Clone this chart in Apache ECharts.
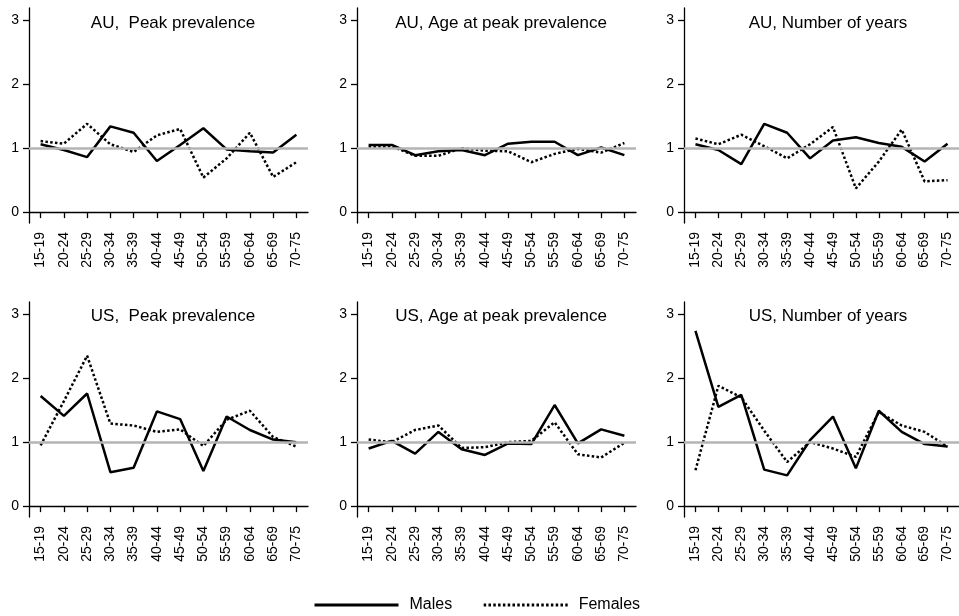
<!DOCTYPE html>
<html>
<head>
<meta charset="utf-8">
<script src="https://cdn.jsdelivr.net/npm/echarts@6/dist/echarts.min.js"></script>
<style>
html,body{margin:0;padding:0;background:#fff;}
#chart{width:959px;height:616px;}
</style>
</head>
<body>
<div id="chart"></div>
<script>
// ---- data ----
const ageGroups = ['15-19','20-24','25-29','30-34','35-39','40-44','45-49','50-54','55-59','60-64','65-69','70-75'];
const yTicks = [0, 1, 2, 3];
const panelTitles = ['AU,  Peak prevalence','AU, Age at peak prevalence','AU, Number of years',
                     'US,  Peak prevalence','US, Age at peak prevalence','US, Number of years'];

const auPeakMales     = [1.06,0.97,0.86,1.34,1.24,0.80,1.05,1.31,0.98,0.95,0.93,1.21];
const auPeakFemales   = [1.11,1.07,1.38,1.06,0.94,1.20,1.30,0.54,0.84,1.24,0.55,0.78];
const auAgeMales      = [1.05,1.05,0.89,0.95,0.97,0.89,1.07,1.10,1.10,0.89,1.01,0.89];
const auAgeFemales    = [1.02,1.03,0.88,0.88,1.00,0.96,0.95,0.78,0.91,0.99,0.93,1.08];
const auYearsMales    = [1.06,0.97,0.75,1.38,1.24,0.84,1.12,1.17,1.08,1.02,0.79,1.07];
const auYearsFemales  = [1.15,1.06,1.21,1.03,0.84,1.06,1.33,0.37,0.79,1.29,0.48,0.50];
const usPeakMales     = [1.72,1.41,1.76,0.53,0.60,1.48,1.36,0.55,1.40,1.19,1.04,1.00];
const usPeakFemales   = [0.95,1.64,2.35,1.29,1.26,1.16,1.20,0.94,1.35,1.49,1.08,0.93];
const usAgeMales      = [0.90,1.02,0.82,1.16,0.89,0.80,0.98,0.97,1.58,0.98,1.20,1.10];
const usAgeFemales    = [1.04,1.00,1.19,1.26,0.91,0.92,1.00,1.02,1.31,0.81,0.76,0.99];
const usYearsMales    = [2.74,1.55,1.74,0.57,0.48,1.03,1.40,0.59,1.49,1.16,0.97,0.93];
const usYearsFemales  = [0.56,1.88,1.70,1.18,0.69,1.00,0.90,0.77,1.47,1.26,1.16,0.93];

const malesByPanel   = [auPeakMales, auAgeMales, auYearsMales, usPeakMales, usAgeMales, usYearsMales];
const femalesByPanel = [auPeakFemales, auAgeFemales, auYearsFemales, usPeakFemales, usAgeFemales, usYearsFemales];
const referenceValue = 1;

// ---- layout ----
const FONT = '"Liberation Sans", Arial, Helvetica, sans-serif';
const lefts = [29, 357, 684];
const tops = [8, 302];
const gridW = 279, gridH = 215;
const yMin = -0.17, yMax = 3.19;

const grids = [], xAxes = [], yAxes = [], series = [], titles = [];
for (let i = 0; i < 6; i++) {
  const col = i % 3, row = Math.floor(i / 3);
  grids.push({left: lefts[col], top: tops[row], width: gridW, height: gridH, containLabel: false});
  xAxes.push({
    type: 'category', gridIndex: i, data: ageGroups, boundaryGap: true,
    axisLine: {show: true, lineStyle: {color: '#000', width: 1.3}},
    axisTick: {show: true, alignWithLabel: true, length: 6, lineStyle: {color: '#000', width: 1.3}},
    axisLabel: {rotate: 90, interval: 0, margin: 9, fontSize: 14, color: '#000', fontFamily: FONT},
    splitLine: {show: false}
  });
  yAxes.push({
    type: 'value', gridIndex: i, min: yMin, max: yMax,
    axisLine: {show: true, lineStyle: {color: '#000', width: 1.3}},
    axisTick: {show: true, length: 6, customValues: yTicks, lineStyle: {color: '#000', width: 1.3}},
    axisLabel: {show: true, margin: 10, fontSize: 14, color: '#000', fontFamily: FONT, customValues: yTicks},
    splitLine: {show: false}
  });
  titles.push({
    text: panelTitles[i], left: lefts[col] + 139, top: row === 0 ? 10 : 303, textAlign: 'center',
    textStyle: {fontSize: 17, fontWeight: 'normal', color: '#000', fontFamily: FONT}
  });
  series.push({
    type: 'line', name: 'ref', xAxisIndex: i, yAxisIndex: i, data: [], z: 1, silent: true,
    markLine: {silent: true, symbol: ['none','none'], label: {show: false},
      lineStyle: {color: '#b4b4b4', width: 2.5, type: 'solid'},
      data: [{yAxis: referenceValue}]}
  });
  series.push({
    type: 'line', name: 'Males', xAxisIndex: i, yAxisIndex: i, data: malesByPanel[i],
    symbol: 'none', z: 3, lineStyle: {color: '#000', width: 2.5, type: 'solid'},
    itemStyle: {color: '#000'}
  });
  series.push({
    type: 'line', name: 'Females', xAxisIndex: i, yAxisIndex: i, data: femalesByPanel[i],
    symbol: 'none', z: 2, lineStyle: {color: '#000', width: 2.5, type: [2.5, 2.3]},
    itemStyle: {color: '#000'}
  });
}

const chart = echarts.init(document.getElementById('chart'), null, {renderer: 'canvas'});
chart.setOption({
  animation: false,
  backgroundColor: '#fff',
  title: titles,
  grid: grids,
  xAxis: xAxes,
  yAxis: yAxes,
  legend: {
    orient: 'horizontal',
    data: [{name: 'Males'}, {name: 'Females'}], left: 308, top: 592,
    itemWidth: 84, itemHeight: 20, itemGap: 30,
    itemStyle: {opacity: 0},
    lineStyle: {width: 3},
    textStyle: {fontSize: 16, color: '#000', fontFamily: FONT, padding: [0, 0, 0, 6]}
  },
  series: series
});
</script>
</body>
</html>
